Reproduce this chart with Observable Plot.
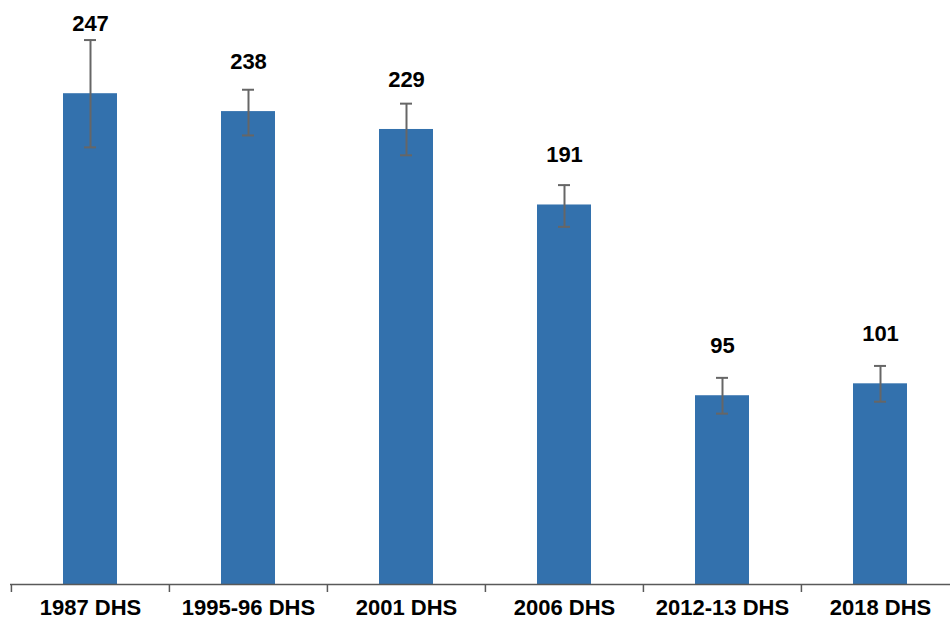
<!DOCTYPE html>
<html>
<head>
<meta charset="utf-8">
<script src="https://cdn.jsdelivr.net/npm/d3@7"></script>
<script src="https://cdn.jsdelivr.net/npm/@observablehq/plot@0.6"></script>
<style>
  html, body { margin: 0; padding: 0; background: #fff; }
  #chart { width: 950px; height: 622px; overflow: hidden; }
</style>
</head>
<body>
<div id="chart"></div>
<script>
const categories = ["1987 DHS", "1995-96 DHS", "2001 DHS", "2006 DHS", "2012-13 DHS", "2018 DHS"];
const values = [247, 238, 229, 191, 95, 101];
const ciLow = [220, 226, 216, 180, 86, 92];
const ciHigh = [274, 249, 242, 201, 104, 110];

const data = categories.map((c, i) => ({survey: c, value: values[i], lo: ciLow[i], hi: ciHigh[i]}));

const xRange = [10, 959];
const halfStep = (xRange[1] - xRange[0]) / categories.length / 2;

const chart = Plot.plot({
  width: 950,
  height: 622,
  marginLeft: 10,
  marginRight: 0,
  marginTop: 0,
  marginBottom: 38,
  style: {fontFamily: "'Liberation Sans', Arial, sans-serif", background: "#fff", color: "#000"},
  x: {domain: categories, padding: 0, range: xRange, label: null},
  y: {domain: [0, 290], range: [584, 584 - 290 * 1.987], label: null, axis: null},
  marks: [
    Plot.barY(data, {x: "survey", y: "value", fill: "#3371ad", insetLeft: 52, insetRight: 52}),
    Plot.ruleX(data, {x: "survey", y1: "lo", y2: "hi", stroke: "#666", strokeWidth: 2}),
    Plot.tickY(data, {x: "survey", y: "lo", stroke: "#666", strokeWidth: 2, insetLeft: 73, insetRight: 73}),
    Plot.tickY(data, {x: "survey", y: "hi", stroke: "#666", strokeWidth: 2, insetLeft: 73, insetRight: 73}),
    Plot.text(data, {
      x: "survey",
      y: d => Math.max(d.hi + 8, d.value + 25),
      text: d => String(d.value),
      fontSize: 22,
      fontWeight: "bold",
      fill: "#000"
    }),
    Plot.ruleY([0], {stroke: "#595959", strokeWidth: 1.5}),
    Plot.axisX({tickSize: 0, tickPadding: 15, fontSize: 22, fontWeight: "bold", fill: "#000", label: null}),
    Plot.axisX({tickSize: 8, tickFormat: () => "", dx: -halfStep, stroke: "#595959", strokeWidth: 1.5, label: null})
  ]
});

document.getElementById("chart").appendChild(chart);
</script>
</body>
</html>
